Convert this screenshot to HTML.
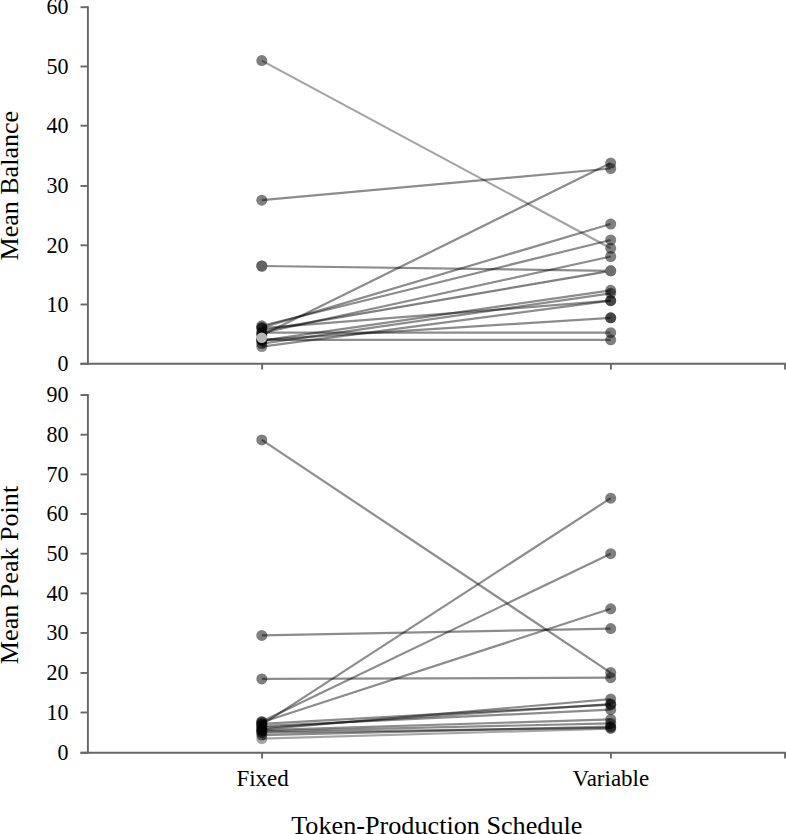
<!DOCTYPE html>
<html><head><meta charset="utf-8"><style>
html,body{margin:0;padding:0;background:#fff;width:786px;height:834px;overflow:hidden}
svg{display:block}
</style></head><body>
<svg width="786" height="834" viewBox="0 0 786 834">
<style>
text{font-family:"Liberation Serif",serif;fill:#000}
.tl{font-size:22px}
.ttl{font-size:26px}
.xl{font-size:23px}
</style>
<rect width="786" height="834" fill="#fff"/>
<line x1="87.9" y1="6.3" x2="87.9" y2="364.7" stroke="#666666" stroke-width="1.9"/>
<line x1="80.5" y1="363.8" x2="87.9" y2="363.8" stroke="#666666" stroke-width="1.9"/>
<text transform="translate(68.5,371.0) scale(1,1.06)" text-anchor="end" class="tl">0</text>
<line x1="80.5" y1="304.5" x2="87.9" y2="304.5" stroke="#666666" stroke-width="1.9"/>
<text transform="translate(68.5,311.7) scale(1,1.06)" text-anchor="end" class="tl">10</text>
<line x1="80.5" y1="245.3" x2="87.9" y2="245.3" stroke="#666666" stroke-width="1.9"/>
<text transform="translate(68.5,252.5) scale(1,1.06)" text-anchor="end" class="tl">20</text>
<line x1="80.5" y1="186.0" x2="87.9" y2="186.0" stroke="#666666" stroke-width="1.9"/>
<text transform="translate(68.5,193.2) scale(1,1.06)" text-anchor="end" class="tl">30</text>
<line x1="80.5" y1="125.7" x2="87.9" y2="125.7" stroke="#666666" stroke-width="1.9"/>
<text transform="translate(68.5,132.9) scale(1,1.06)" text-anchor="end" class="tl">40</text>
<line x1="80.5" y1="66.5" x2="87.9" y2="66.5" stroke="#666666" stroke-width="1.9"/>
<text transform="translate(68.5,73.7) scale(1,1.06)" text-anchor="end" class="tl">50</text>
<line x1="80.5" y1="7.2" x2="87.9" y2="7.2" stroke="#666666" stroke-width="1.9"/>
<text transform="translate(68.5,14.4) scale(1,1.06)" text-anchor="end" class="tl">60</text>
<line x1="80.5" y1="363.8" x2="785.9" y2="363.8" stroke="#666666" stroke-width="1.9"/>
<line x1="262.1" y1="363.8" x2="262.1" y2="369.6" stroke="#666666" stroke-width="1.9"/>
<line x1="610.9" y1="363.8" x2="610.9" y2="369.6" stroke="#666666" stroke-width="1.9"/>
<line x1="785.1" y1="363.8" x2="785.1" y2="369.6" stroke="#666666" stroke-width="1.9"/>
<line x1="87.9" y1="394.1" x2="87.9" y2="753.6" stroke="#666666" stroke-width="1.9"/>
<line x1="80.5" y1="752.8" x2="87.9" y2="752.8" stroke="#666666" stroke-width="1.9"/>
<text transform="translate(68.5,760.0) scale(1,1.06)" text-anchor="end" class="tl">0</text>
<line x1="80.5" y1="712.5" x2="87.9" y2="712.5" stroke="#666666" stroke-width="1.9"/>
<text transform="translate(68.5,719.7) scale(1,1.06)" text-anchor="end" class="tl">10</text>
<line x1="80.5" y1="673.0" x2="87.9" y2="673.0" stroke="#666666" stroke-width="1.9"/>
<text transform="translate(68.5,680.2) scale(1,1.06)" text-anchor="end" class="tl">20</text>
<line x1="80.5" y1="633.0" x2="87.9" y2="633.0" stroke="#666666" stroke-width="1.9"/>
<text transform="translate(68.5,640.2) scale(1,1.06)" text-anchor="end" class="tl">30</text>
<line x1="80.5" y1="593.4" x2="87.9" y2="593.4" stroke="#666666" stroke-width="1.9"/>
<text transform="translate(68.5,600.6) scale(1,1.06)" text-anchor="end" class="tl">40</text>
<line x1="80.5" y1="553.7" x2="87.9" y2="553.7" stroke="#666666" stroke-width="1.9"/>
<text transform="translate(68.5,560.9) scale(1,1.06)" text-anchor="end" class="tl">50</text>
<line x1="80.5" y1="514.0" x2="87.9" y2="514.0" stroke="#666666" stroke-width="1.9"/>
<text transform="translate(68.5,521.2) scale(1,1.06)" text-anchor="end" class="tl">60</text>
<line x1="80.5" y1="474.4" x2="87.9" y2="474.4" stroke="#666666" stroke-width="1.9"/>
<text transform="translate(68.5,481.6) scale(1,1.06)" text-anchor="end" class="tl">70</text>
<line x1="80.5" y1="434.7" x2="87.9" y2="434.7" stroke="#666666" stroke-width="1.9"/>
<text transform="translate(68.5,441.9) scale(1,1.06)" text-anchor="end" class="tl">80</text>
<line x1="80.5" y1="395.0" x2="87.9" y2="395.0" stroke="#666666" stroke-width="1.9"/>
<text transform="translate(68.5,402.2) scale(1,1.06)" text-anchor="end" class="tl">90</text>
<line x1="80.5" y1="752.7" x2="785.9" y2="752.7" stroke="#666666" stroke-width="1.9"/>
<line x1="262.1" y1="752.7" x2="262.1" y2="758.5" stroke="#666666" stroke-width="1.9"/>
<line x1="610.9" y1="752.7" x2="610.9" y2="758.5" stroke="#666666" stroke-width="1.9"/>
<line x1="785.1" y1="752.7" x2="785.1" y2="758.5" stroke="#666666" stroke-width="1.9"/>
<g><line x1="261.8" y1="60.6" x2="610.7" y2="248.3" stroke="rgba(0,0,0,0.36)" stroke-width="2.2"/><circle cx="261.8" cy="60.6" r="5.5" fill="rgba(0,0,0,0.5)"/><circle cx="610.7" cy="248.3" r="5.5" fill="rgba(0,0,0,0.5)"/></g>
<g><line x1="261.8" y1="200.2" x2="610.7" y2="168.5" stroke="rgba(0,0,0,0.45)" stroke-width="2.2"/><circle cx="261.8" cy="200.2" r="5.5" fill="rgba(0,0,0,0.5)"/><circle cx="610.7" cy="168.5" r="5.5" fill="rgba(0,0,0,0.5)"/></g>
<g><line x1="261.8" y1="266.0" x2="610.7" y2="270.8" stroke="rgba(0,0,0,0.45)" stroke-width="2.2"/><circle cx="261.8" cy="266.0" r="5.5" fill="rgba(0,0,0,0.5)"/><circle cx="610.7" cy="270.8" r="5.5" fill="rgba(0,0,0,0.5)"/></g>
<g><line x1="261.8" y1="335.3" x2="610.7" y2="163.1" stroke="rgba(0,0,0,0.45)" stroke-width="2.2"/><circle cx="261.8" cy="335.3" r="5.5" fill="rgba(0,0,0,0.5)"/><circle cx="610.7" cy="163.1" r="5.5" fill="rgba(0,0,0,0.5)"/></g>
<g><line x1="261.8" y1="327.6" x2="610.7" y2="224.0" stroke="rgba(0,0,0,0.45)" stroke-width="2.2"/><circle cx="261.8" cy="327.6" r="5.5" fill="rgba(0,0,0,0.5)"/><circle cx="610.7" cy="224.0" r="5.5" fill="rgba(0,0,0,0.5)"/></g>
<g><line x1="261.8" y1="325.8" x2="610.7" y2="240.0" stroke="rgba(0,0,0,0.45)" stroke-width="2.2"/><circle cx="261.8" cy="325.8" r="5.5" fill="rgba(0,0,0,0.5)"/><circle cx="610.7" cy="240.0" r="5.5" fill="rgba(0,0,0,0.5)"/></g>
<g><line x1="261.8" y1="333.0" x2="610.7" y2="256.5" stroke="rgba(0,0,0,0.45)" stroke-width="2.2"/><circle cx="261.8" cy="333.0" r="5.5" fill="rgba(0,0,0,0.5)"/><circle cx="610.7" cy="256.5" r="5.5" fill="rgba(0,0,0,0.5)"/></g>
<g><line x1="261.8" y1="330.6" x2="610.7" y2="270.8" stroke="rgba(0,0,0,0.5)" stroke-width="2.2"/><circle cx="261.8" cy="330.6" r="5.5" fill="rgba(0,0,0,0.0)"/><circle cx="610.7" cy="270.8" r="5.5" fill="rgba(0,0,0,0.0)"/></g>
<g><line x1="261.8" y1="340.7" x2="610.7" y2="290.3" stroke="rgba(0,0,0,0.45)" stroke-width="2.2"/><circle cx="261.8" cy="340.7" r="5.5" fill="rgba(0,0,0,0.5)"/><circle cx="610.7" cy="290.3" r="5.5" fill="rgba(0,0,0,0.5)"/></g>
<g><line x1="261.8" y1="343.6" x2="610.7" y2="293.3" stroke="rgba(0,0,0,0.45)" stroke-width="2.2"/><circle cx="261.8" cy="343.6" r="5.5" fill="rgba(0,0,0,0.5)"/><circle cx="610.7" cy="293.3" r="5.5" fill="rgba(0,0,0,0.5)"/></g>
<g><line x1="261.8" y1="346.6" x2="610.7" y2="300.7" stroke="rgba(0,0,0,0.45)" stroke-width="2.2"/><circle cx="261.8" cy="346.6" r="5.5" fill="rgba(0,0,0,0.45)"/><circle cx="610.7" cy="300.7" r="5.5" fill="rgba(0,0,0,0.45)"/></g>
<g><line x1="261.8" y1="328.2" x2="610.7" y2="300.7" stroke="rgba(0,0,0,0.45)" stroke-width="2.2"/><circle cx="261.8" cy="328.2" r="5.5" fill="rgba(0,0,0,0.5)"/><circle cx="610.7" cy="300.7" r="5.5" fill="rgba(0,0,0,0.5)"/></g>
<g><line x1="261.8" y1="339.8" x2="610.7" y2="317.8" stroke="rgba(0,0,0,0.45)" stroke-width="2.2"/><circle cx="261.8" cy="339.8" r="5.5" fill="rgba(0,0,0,0.5)"/><circle cx="610.7" cy="317.8" r="5.5" fill="rgba(0,0,0,0.5)"/></g>
<g><line x1="261.8" y1="337.1" x2="610.7" y2="317.8" stroke="rgba(0,0,0,0.0)" stroke-width="2.2"/><circle cx="261.8" cy="337.1" r="5.5" fill="rgba(0,0,0,0.0)"/><circle cx="610.7" cy="317.8" r="5.5" fill="rgba(0,0,0,0.0)"/></g>
<g><line x1="261.8" y1="332.7" x2="610.7" y2="332.7" stroke="rgba(0,0,0,0.45)" stroke-width="2.2"/><circle cx="261.8" cy="332.7" r="5.5" fill="rgba(0,0,0,0.5)"/><circle cx="610.7" cy="332.7" r="5.5" fill="rgba(0,0,0,0.5)"/></g>
<g><line x1="261.8" y1="339.8" x2="610.7" y2="339.8" stroke="rgba(0,0,0,0.45)" stroke-width="2.2"/><circle cx="261.8" cy="339.8" r="5.5" fill="rgba(0,0,0,0.5)"/><circle cx="610.7" cy="339.8" r="5.5" fill="rgba(0,0,0,0.5)"/></g>
<circle cx="261.8" cy="266.0" r="5.5" fill="#626262"/>
<circle cx="610.7" cy="270.8" r="5.5" fill="#6e6e6e"/>
<circle cx="610.7" cy="317.8" r="5.5" fill="rgba(0,0,0,0.45)"/>
<circle cx="261.8" cy="337.7" r="5.3" fill="#b6b6b6"/>
<g><line x1="261.8" y1="439.9" x2="610.7" y2="672.6" stroke="rgba(0,0,0,0.45)" stroke-width="2.2"/><circle cx="261.8" cy="439.9" r="5.5" fill="rgba(0,0,0,0.5)"/><circle cx="610.7" cy="672.6" r="5.5" fill="rgba(0,0,0,0.5)"/></g>
<g><line x1="261.8" y1="635.4" x2="610.7" y2="628.6" stroke="rgba(0,0,0,0.45)" stroke-width="2.2"/><circle cx="261.8" cy="635.4" r="5.5" fill="rgba(0,0,0,0.5)"/><circle cx="610.7" cy="628.6" r="5.5" fill="rgba(0,0,0,0.5)"/></g>
<g><line x1="261.8" y1="678.9" x2="610.7" y2="677.7" stroke="rgba(0,0,0,0.45)" stroke-width="2.2"/><circle cx="261.8" cy="678.9" r="5.5" fill="rgba(0,0,0,0.5)"/><circle cx="610.7" cy="677.7" r="5.5" fill="rgba(0,0,0,0.5)"/></g>
<g><line x1="261.8" y1="724.6" x2="610.7" y2="498.2" stroke="rgba(0,0,0,0.45)" stroke-width="2.2"/><circle cx="261.8" cy="724.6" r="5.5" fill="rgba(0,0,0,0.5)"/><circle cx="610.7" cy="498.2" r="5.5" fill="rgba(0,0,0,0.5)"/></g>
<g><line x1="261.8" y1="721.4" x2="610.7" y2="553.7" stroke="rgba(0,0,0,0.45)" stroke-width="2.2"/><circle cx="261.8" cy="721.4" r="5.5" fill="rgba(0,0,0,0.5)"/><circle cx="610.7" cy="553.7" r="5.5" fill="rgba(0,0,0,0.5)"/></g>
<g><line x1="261.8" y1="722.2" x2="610.7" y2="608.8" stroke="rgba(0,0,0,0.45)" stroke-width="2.2"/><circle cx="261.8" cy="722.2" r="5.5" fill="rgba(0,0,0,0.5)"/><circle cx="610.7" cy="608.8" r="5.5" fill="rgba(0,0,0,0.5)"/></g>
<g><line x1="261.8" y1="729.4" x2="610.7" y2="699.1" stroke="rgba(0,0,0,0.45)" stroke-width="2.2"/><circle cx="261.8" cy="729.4" r="5.5" fill="rgba(0,0,0,0.5)"/><circle cx="610.7" cy="699.1" r="5.5" fill="rgba(0,0,0,0.5)"/></g>
<g><line x1="261.8" y1="727.8" x2="610.7" y2="704.2" stroke="rgba(0,0,0,0.45)" stroke-width="2.2"/><circle cx="261.8" cy="727.8" r="5.5" fill="rgba(0,0,0,0.5)"/><circle cx="610.7" cy="704.2" r="5.5" fill="rgba(0,0,0,0.5)"/></g>
<g><line x1="261.8" y1="726.2" x2="610.7" y2="709.7" stroke="rgba(0,0,0,0.45)" stroke-width="2.2"/><circle cx="261.8" cy="726.2" r="5.5" fill="rgba(0,0,0,0.5)"/><circle cx="610.7" cy="709.7" r="5.5" fill="rgba(0,0,0,0.5)"/></g>
<g><line x1="261.8" y1="730.2" x2="610.7" y2="719.4" stroke="rgba(0,0,0,0.45)" stroke-width="2.2"/><circle cx="261.8" cy="730.2" r="5.5" fill="rgba(0,0,0,0.5)"/><circle cx="610.7" cy="719.4" r="5.5" fill="rgba(0,0,0,0.5)"/></g>
<g><line x1="261.8" y1="731.4" x2="610.7" y2="723.4" stroke="rgba(0,0,0,0.45)" stroke-width="2.2"/><circle cx="261.8" cy="731.4" r="5.5" fill="rgba(0,0,0,0.5)"/><circle cx="610.7" cy="723.4" r="5.5" fill="rgba(0,0,0,0.5)"/></g>
<g><line x1="261.8" y1="732.6" x2="610.7" y2="727.8" stroke="rgba(0,0,0,0.45)" stroke-width="2.2"/><circle cx="261.8" cy="732.6" r="5.5" fill="rgba(0,0,0,0.5)"/><circle cx="610.7" cy="727.8" r="5.5" fill="rgba(0,0,0,0.5)"/></g>
<g><line x1="261.8" y1="735.1" x2="610.7" y2="726.6" stroke="rgba(0,0,0,0.45)" stroke-width="2.2"/><circle cx="261.8" cy="735.1" r="5.5" fill="rgba(0,0,0,0.5)"/><circle cx="610.7" cy="726.6" r="5.5" fill="rgba(0,0,0,0.5)"/></g>
<g><line x1="261.8" y1="723.8" x2="610.7" y2="704.6" stroke="rgba(0,0,0,0.45)" stroke-width="2.2"/><circle cx="261.8" cy="723.8" r="5.5" fill="rgba(0,0,0,0.5)"/><circle cx="610.7" cy="704.6" r="5.5" fill="rgba(0,0,0,0.5)"/></g>
<g><line x1="261.8" y1="738.7" x2="610.7" y2="728.6" stroke="rgba(0,0,0,0.35)" stroke-width="2.2"/><circle cx="261.8" cy="738.7" r="5.5" fill="rgba(0,0,0,0.35)"/><circle cx="610.7" cy="728.6" r="5.5" fill="rgba(0,0,0,0.35)"/></g>
<text x="262.6" y="786" text-anchor="middle" class="xl">Fixed</text>
<text x="610.9" y="786" text-anchor="middle" class="xl">Variable</text>
<text x="436.8" y="834" text-anchor="middle" class="ttl" style="font-size:26.2px">Token-Production Schedule</text>
<text transform="translate(17.6,185.7) rotate(-90)" text-anchor="middle" class="ttl">Mean Balance</text>
<text transform="translate(17.6,575.0) rotate(-90)" text-anchor="middle" class="ttl" style="font-size:26.1px">Mean Peak Point</text>
</svg>
</body></html>
